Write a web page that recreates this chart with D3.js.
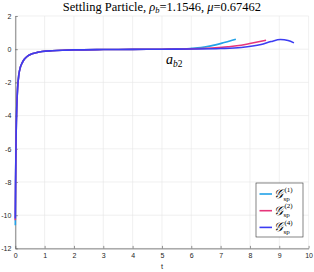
<!DOCTYPE html>
<html>
<head>
<meta charset="utf-8">
<script src="https://cdn.jsdelivr.net/npm/d3@7"></script>
<style>
    body { margin: 0; background: #fff; }
    svg { display: block; }
    .tick text { font-family: "Liberation Sans", Arial, sans-serif; font-size: 7px; fill: #262626; }
</style>
</head>
<body>
<div id="chart"></div>
<script>
// transient shared by all runs (t, a_b2)
var headT = [0.01, 0.02, 0.03, 0.05, 0.08, 0.12, 0.17, 0.23, 0.3, 0.4, 0.57, 0.75, 0.91, 1.26, 1.6, 2, 3, 4, 5];
var headA = [-8, -6.3, -5, -3.5, -2.3, -1.55, -1.1, -0.84, -0.62, -0.44, -0.28, -0.19, -0.14, -0.09, -0.06, -0.04, -0.02, -0.01, 0];

var sp1T = [0].concat(headT, [5.6, 6, 6.33, 6.67, 7.12, 7.52]);
var sp1A = [-10.6].concat(headA, [0.01, 0.05, 0.1, 0.2, 0.4, 0.6]);
var sp2T = [0].concat(headT, [6, 6.7, 7.24, 7.7, 8.04, 8.55]);
var sp2A = [-10.3].concat(headA, [0.02, 0.07, 0.15, 0.24, 0.36, 0.54]);
var sp4T = [0].concat(headT, [6, 7, 7.7, 8.38, 8.72, 9.04, 9.3, 9.5]);
var sp4A = [-10.2].concat(headA, [0.01, 0.04, 0.1, 0.28, 0.46, 0.58, 0.52, 0.38]);

var xTicks = [0, 1, 2, 3, 4, 5, 6, 7, 8, 9, 10];
var yTicks = [2, 0, -2, -4, -6, -8, -10, -12];
var seriesNames = ["(1)", "(2)", "(4)"];
var seriesColors = ["#22a2e8", "#e6357a", "#3c3cf2"];

(function () {
    var W = 314, H = 272;
    var x = d3.scaleLinear().domain([0, 10]).range([15.3, 308.6]);
    var y = d3.scaleLinear().domain([-12, 2]).range([248.4, 16]);

    var svg = d3.select("#chart").append("svg")
        .attr("width", W)
        .attr("height", H);

    //--grid
    var grid = svg.append("g").attr("stroke", "#e5e5e5").attr("stroke-width", 0.6);
    xTicks.forEach(function (t) {
        grid.append("line").attr("x1", x(t)).attr("x2", x(t)).attr("y1", y(2)).attr("y2", y(-12));
    });
    yTicks.forEach(function (v) {
        grid.append("line").attr("x1", x(0)).attr("x2", x(10)).attr("y1", y(v)).attr("y2", y(v));
    });

    //--axes
    var xAxis = svg.append("g")
        .attr("transform", "translate(0," + y(-12) + ")")
        .call(d3.axisBottom(x).tickValues(xTicks).tickSize(-2.5).tickPadding(5).tickSizeOuter(0));
    var yAxis = svg.append("g")
        .attr("transform", "translate(" + x(0) + ",0)")
        .call(d3.axisLeft(y).tickValues(yTicks).tickSize(-2.5).tickPadding(4).tickSizeOuter(0)
            .tickFormat(function (d) { return d; }));
    [xAxis, yAxis].forEach(function (a) {
        a.select(".domain").attr("stroke", "#4d4d4d").attr("stroke-width", 0.7);
        a.selectAll(".tick line").attr("stroke", "#4d4d4d").attr("stroke-width", 0.6);
    });

    //--lines
    var line = d3.line()
        .x(function (d) { return x(d[0]); })
        .y(function (d) { return y(d[1]); })
        .curve(d3.curveMonotoneX);
    var series = [[sp1T, sp1A], [sp2T, sp2A], [sp4T, sp4A]];
    series.forEach(function (s, i) {
        svg.append("path")
            .datum(d3.zip(s[0], s[1]))
            .attr("fill", "none")
            .attr("stroke", seriesColors[i])
            .attr("stroke-width", 1.6)
            .attr("d", line);
    });

    //--title
    var title = svg.append("text")
        .attr("x", (x(0) + x(10)) / 2)
        .attr("y", 11)
        .attr("text-anchor", "middle")
        .attr("font-family", "Liberation Serif, serif")
        .attr("font-size", 12.5)
        .attr("fill", "#000");
    title.append("tspan").text("Settling Particle, ");
    title.append("tspan").attr("font-style", "italic").text("ρ");
    title.append("tspan").attr("font-style", "italic").attr("font-size", 8.5).attr("dy", 2).text("b");
    title.append("tspan").attr("dy", -2).text("=1.1546, ");
    title.append("tspan").attr("font-style", "italic").text("μ");
    title.append("tspan").text("=0.67462");

    //--annotation
    var ann = svg.append("text")
        .attr("x", 166)
        .attr("y", 64)
        .attr("font-family", "Liberation Serif, serif")
        .attr("font-style", "italic")
        .attr("font-size", 14);
    ann.append("tspan").text("a");
    ann.append("tspan").attr("font-size", 9.5).attr("dy", 3).text("b");
    ann.append("tspan").attr("font-size", 9.5).attr("font-style", "normal").text("2");

    //--x label
    svg.append("text")
        .attr("x", (x(0) + x(10)) / 2)
        .attr("y", 269)
        .attr("text-anchor", "middle")
        .attr("font-family", "Liberation Sans, Arial, sans-serif")
        .attr("font-size", 7.5)
        .attr("fill", "#262626")
        .text("t");

    //--legend
    var leg = svg.append("g").attr("transform", "translate(256,183)");
    leg.append("rect")
        .attr("width", 47).attr("height", 54)
        .attr("fill", "#fff")
        .attr("stroke", "#333").attr("stroke-width", 0.6);
    seriesNames.forEach(function (n, i) {
        var row = leg.append("g").attr("transform", "translate(0," + (11 + i * 16.7) + ")");
        row.append("line")
            .attr("x1", 3.5).attr("x2", 16)
            .attr("stroke", seriesColors[i]).attr("stroke-width", 1.6);
        row.append("text")
            .attr("x", 17.5).attr("y", 4)
            .attr("font-family", "Liberation Serif, serif")
            .attr("font-style", "italic")
            .attr("font-size", 12.5)
            .text("𝒢");
        row.append("text")
            .attr("x", 27.5).attr("y", 6.5)
            .attr("font-family", "Liberation Serif, serif")
            .attr("font-size", 7)
            .text("sp");
        row.append("text")
            .attr("x", 28.5).attr("y", -2.5)
            .attr("font-family", "Liberation Serif, serif")
            .attr("font-size", 7)
            .text(n);
    });
})();
</script>
</body>
</html>
